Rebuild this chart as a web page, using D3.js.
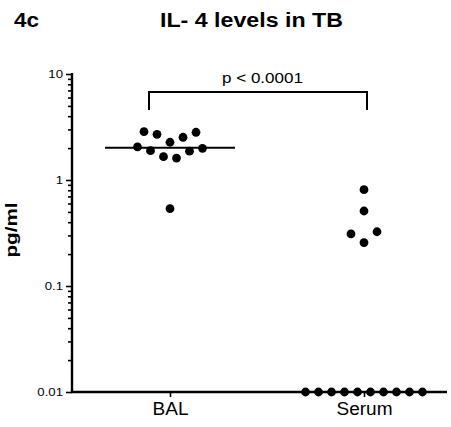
<!DOCTYPE html>
<html>
<head>
<meta charset="utf-8">
<script src="https://cdn.jsdelivr.net/npm/d3@7"></script>
<style>
  body { margin: 0; background: #fff; }
  text { font-family: "Liberation Sans", Arial, sans-serif; fill: #000; }
</style>
</head>
<body>
<svg id="chart" width="451" height="427"></svg>
<script>
// groups and values (pg/ml)
const categories = ["BAL", "Serum"];
// BAL values with their scatter column (column 0 = on the group centre)
const balValues  = [2.05, 2.86, 1.89, 2.70, 1.66, 2.27, 0.536, 1.61, 2.53, 1.87, 2.82, 1.99];
const balColumns = [-5,   -4,   -3,   -2,   -1,   0,    0,     1,    2,    3,    4,    5];
// Serum values; undetectable samples are plotted at the 0.01 floor
const serumValues  = [0.81, 0.51, 0.257, 0.31, 0.325, 0.01, 0.01, 0.01, 0.01, 0.01, 0.01, 0.01, 0.01, 0.01, 0.01];
const serumColumns = [0,    0,    0,     -2,   2,     -9,   -7,   -5,   -3,   -1,   1,    3,    5,    7,    9];
const medians = [2.02, 0.01];
const yTickValues = [0.01, 0.1, 1, 10];
const yTickLabels = ["0.01", "0.1", "1", "10"];
const pLabel = "p < 0.0001";

const svg = d3.select("#chart");
const colW = 6.5; // horizontal spacing of one scatter column

const x = d3.scalePoint().domain(categories).range([170, 364]);
const y = d3.scaleLog().domain([0.01, 10]).range([392, 74]);

// the original figure is a bit wider than its fonts, so stretch text horizontally
function stretch(sel, k) {
  sel.each(function() {
    const w = this.getComputedTextLength();
    d3.select(this).attr("textLength", w * k).attr("lengthAdjust", "spacingAndGlyphs");
  });
}

// titles
svg.append("text").attr("x", 14).attr("y", 27)
  .style("font-size", "20px").style("font-weight", "bold").text("4c")
  .attr("textLength", 25).attr("lengthAdjust", "spacingAndGlyphs");
svg.append("text").attr("x", 160).attr("y", 27)
  .style("font-size", "20px").style("font-weight", "bold").text("IL- 4 levels in TB")
  .attr("textLength", 183).attr("lengthAdjust", "spacingAndGlyphs");

// y axis: labelled decades, minor ticks in between
const minor = [];
for (let e = -2; e < 1; e++) for (let m = 2; m <= 9; m++) minor.push(m * Math.pow(10, e));

svg.append("g").attr("transform", "translate(72,0)")
  .call(d3.axisLeft(y).tickValues(minor).tickSize(4).tickFormat(""))
  .call(g => g.select(".domain").remove())
  .call(g => g.selectAll("line").attr("stroke-width", 1.6));
svg.append("g").attr("transform", "translate(72,0)")
  .call(d3.axisLeft(y).tickValues(yTickValues).tickSize(6).tickPadding(3)
    .tickFormat((d, i) => yTickLabels[i]))
  .call(g => g.select(".domain").remove())
  .call(g => g.selectAll("line").attr("stroke-width", 1.6))
  .call(g => g.selectAll("text").style("font-size", "11px").call(stretch, 1.2));
svg.append("line").attr("x1", 72).attr("x2", 72).attr("y1", y(10) - 1).attr("y2", y(0.01) + 1)
  .attr("stroke", "#000").attr("stroke-width", 2.4);

// x axis
const xLabelWidths = [36, 56];
svg.append("g").attr("transform", `translate(0,${y(0.01)})`)
  .call(d3.axisBottom(x).tickSize(5).tickPadding(5))
  .call(g => g.select(".domain").remove())
  .call(g => g.selectAll("line").attr("stroke-width", 1.6))
  .call(g => g.selectAll("text").style("font-size", "18px")
    .attr("textLength", (d, i) => xLabelWidths[i]).attr("lengthAdjust", "spacingAndGlyphs"));
svg.append("line").attr("x1", 71).attr("x2", 447).attr("y1", y(0.01)).attr("y2", y(0.01))
  .attr("stroke", "#000").attr("stroke-width", 2.4);

// y label
svg.append("text").attr("transform", "translate(16.5,230) rotate(-90)")
  .attr("text-anchor", "middle").style("font-size", "17px").style("font-weight", "bold")
  .text("pg/ml").attr("textLength", 55).attr("lengthAdjust", "spacingAndGlyphs");

// medians
svg.selectAll(".median").data(categories).enter().append("line")
  .attr("class", "median")
  .attr("x1", d => x(d) - 10 * colW).attr("x2", d => x(d) + 10 * colW)
  .attr("y1", (d, i) => y(medians[i])).attr("y2", (d, i) => y(medians[i]))
  .attr("stroke", "#000").attr("stroke-width", 2);

// points
const pts = balValues.map((v, i) => ({ g: "BAL", v: v, c: balColumns[i] }))
  .concat(serumValues.map((v, i) => ({ g: "Serum", v: v, c: serumColumns[i] })));
svg.selectAll(".dot").data(pts).enter().append("circle")
  .attr("class", "dot")
  .attr("cx", d => x(d.g) + d.c * colW)
  .attr("cy", d => y(d.v))
  .attr("r", 4.4)
  .attr("fill", "#000");

// significance bracket
const by = 92, bLeg = 18;
svg.append("path")
  .attr("d", `M${x("BAL") - 21},${by + bLeg}V${by}H${x("Serum") + 3}V${by + bLeg}`)
  .attr("fill", "none").attr("stroke", "#000").attr("stroke-width", 2);
svg.append("text").attr("x", 222).attr("y", 83)
  .style("font-size", "14px").text(pLabel)
  .attr("textLength", 81).attr("lengthAdjust", "spacingAndGlyphs");
</script>
</body>
</html>
